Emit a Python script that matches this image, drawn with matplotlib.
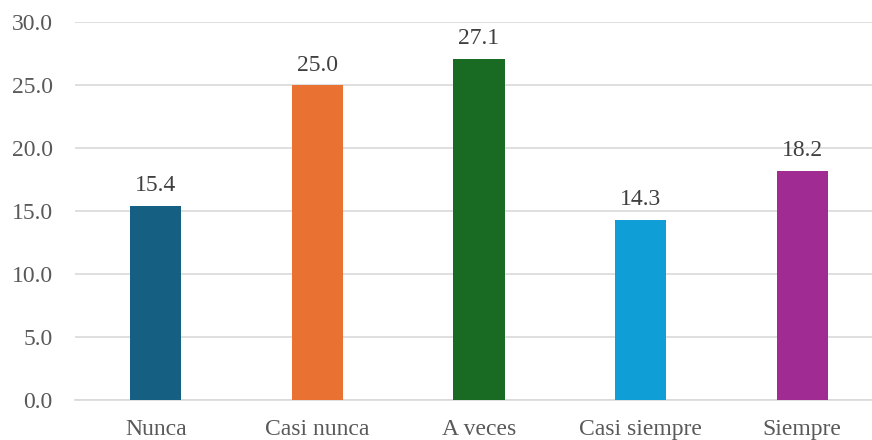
import matplotlib
matplotlib.use("Agg")
import matplotlib.pyplot as plt

categories = ["Nunca", "Casi nunca", "A veces", "Casi siempre", "Siempre"]
values = [15.4, 25.0, 27.1, 14.3, 18.2]
colors = ["#156082", "#E97132", "#196B24", "#0F9ED5", "#A02B93"]
yticks = [0, 5, 10, 15, 20, 25, 30]

plt.rcParams['font.family'] = ['Liberation Serif', 'DejaVu Serif']
text_color = "#595959"
fs = 17

fig = plt.figure(figsize=(8.72, 4.4), dpi=100)
ax = fig.add_axes([75/872, 40/440, 797/872, 377.5/440])

x = list(range(len(categories)))
ax.bar(x, values, width=0.316, color=colors, zorder=3)

for xi, v in zip(x, values):
    ax.annotate(f"{v:.1f}", (xi, v), xytext=(0, 7), textcoords="offset points",
                ha="center", va="bottom", fontsize=fs, color="#404040")

ax.set_xlim(-0.5, 4.432)
ax.set_ylim(0, 30)
ax.set_yticks(yticks)
ax.set_yticklabels([f"{t:.1f}" for t in yticks], fontsize=fs, color=text_color)
ax.set_xticks(x)
ax.set_xticklabels(categories, fontsize=fs, color=text_color)
ax.tick_params(axis='both', length=0)
ax.tick_params(axis='y', pad=16)
ax.tick_params(axis='x', pad=14)
ax.grid(axis='y', color="#D9D9D9", linewidth=1.2, zorder=0)
for s in ["top", "right", "left"]:
    ax.spines[s].set_visible(False)
ax.spines["bottom"].set_color("#D9D9D9")
ax.spines["bottom"].set_linewidth(1.2)

fig.savefig("out.png", dpi=100)
